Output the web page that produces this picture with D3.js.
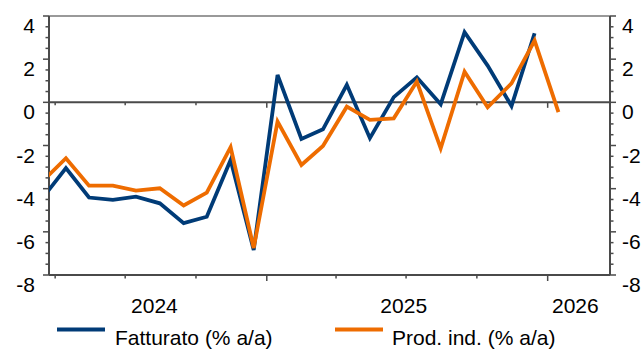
<!DOCTYPE html>
<html>
<head>
<meta charset="utf-8">
<script src="https://cdn.jsdelivr.net/npm/d3@7"></script>
<style>
  html, body { margin: 0; padding: 0; background: #fff; }
  svg { display: block; font-family: "Liberation Sans", Arial, sans-serif; }
</style>
</head>
<body>
<svg id="chart" width="643" height="349"></svg>
<script>
// Monthly observations (mid-month), March 2024 onward
const months = [
  "2024-03", "2024-04", "2024-05", "2024-06", "2024-07", "2024-08",
  "2024-09", "2024-10", "2024-11", "2024-12",
  "2025-01", "2025-02", "2025-03", "2025-04", "2025-05", "2025-06",
  "2025-07", "2025-08", "2025-09", "2025-10", "2025-11", "2025-12",
  "2026-01"
];

// Fatturato (% a/a)
const fatturato = [
  -4.46, -3.05, -4.41, -4.52, -4.37, -4.68, -5.60, -5.30, -2.67, -6.84,
  1.27, -1.70, -1.25, 0.81, -1.66, 0.24, 1.16, -0.09, 3.25, 1.70, -0.17, 3.20
];

// Prod. ind. (% a/a)
const prodInd = [
  -3.68, -2.59, -3.86, -3.86, -4.09, -3.98, -4.78, -4.18, -2.08, -6.75,
  -0.89, -2.90, -2.02, -0.20, -0.81, -0.74, 0.96, -2.13, 1.42, -0.23, 0.88, 2.86,
  -0.45
];

const yTicks = [4, 2, 0, -2, -4, -6, -8];
const yearLabels = ["2024", "2025", "2026"];
const seriesNames = ["Fatturato (% a/a)", "Prod. ind. (% a/a)"];
const seriesColors = ["#003B77", "#EE6C00"];

const svg = d3.select("#chart");
const plot = { left: 49, right: 610, top: 16, bottom: 275 };

const parse = s => { const [y, m] = s.split("-").map(Number); return new Date(Date.UTC(y, m - 1, 15)); };
const dates = months.map(parse);

const x = d3.scaleUtc()
  .domain([new Date(Date.UTC(2024, 2, 24)), new Date(Date.UTC(2026, 2, 23))])
  .range([plot.left, plot.right]);
const y = d3.scaleLinear().domain([-8, 4]).range([plot.bottom, plot.top]);

const axisColor = "#4a4a4a";

// clip region for the series
svg.append("defs").append("clipPath").attr("id", "plotClip")
  .append("rect")
  .attr("x", plot.left).attr("y", plot.top)
  .attr("width", plot.right - plot.left).attr("height", plot.bottom - plot.top);

// top frame line
svg.append("line")
  .attr("x1", plot.left).attr("x2", plot.right)
  .attr("y1", plot.top).attr("y2", plot.top)
  .attr("stroke", "#777").attr("stroke-width", 1.5);

// quarter and year ticks
const quarterTicks = d3.utcMonth.every(3).range(x.domain()[0], x.domain()[1]);
const isYear = d => d.getUTCMonth() === 0;

// zero line with small ticks below it
svg.append("line")
  .attr("x1", plot.left).attr("x2", plot.right)
  .attr("y1", y(0)).attr("y2", y(0))
  .attr("stroke", axisColor).attr("stroke-width", 2);
svg.append("g").selectAll("line").data(quarterTicks).join("line")
  .attr("x1", d => x(d)).attr("x2", d => x(d))
  .attr("y1", y(0)).attr("y2", d => y(0) + (isYear(d) ? 5.5 : 3))
  .attr("stroke", axisColor).attr("stroke-width", 1.5);

// bottom axis
const xAxis = svg.append("g").attr("transform", `translate(0,${plot.bottom})`);
xAxis.append("line")
  .attr("x1", plot.left).attr("x2", plot.right)
  .attr("stroke", axisColor).attr("stroke-width", 2);
xAxis.selectAll("line.tick").data(quarterTicks).join("line")
  .attr("class", "tick")
  .attr("x1", d => x(d)).attr("x2", d => x(d))
  .attr("y1", 0).attr("y2", d => isYear(d) ? 6 : 3.5)
  .attr("stroke", axisColor).attr("stroke-width", 1.5);

// year labels centred on the visible part of each year
xAxis.selectAll("text").data(yearLabels).join("text")
  .attr("x", d => {
    const a = Math.max(x(new Date(Date.UTC(+d, 0, 1))), plot.left);
    const b = Math.min(x(new Date(Date.UTC(+d + 1, 0, 1))), plot.right);
    return (a + b) / 2 - 3.5;
  })
  .attr("y", 38)
  .attr("text-anchor", "middle")
  .attr("font-size", 21)
  .attr("fill", "#000")
  .text(d => d);

// left and right value axes with minor ticks
const minorTicks = d3.range(-8, 4.01, 0.5);
function valueAxis(xPos, dir, anchor, labelX) {
  const g = svg.append("g");
  g.append("line")
    .attr("x1", xPos).attr("x2", xPos)
    .attr("y1", plot.top).attr("y2", plot.bottom)
    .attr("stroke", axisColor).attr("stroke-width", 2);
  g.selectAll("line.tick").data(minorTicks).join("line")
    .attr("class", "tick")
    .attr("x1", xPos)
    .attr("x2", d => xPos + dir * (d % 2 === 0 ? 6 : 3.5))
    .attr("y1", d => y(d)).attr("y2", d => y(d))
    .attr("stroke", axisColor).attr("stroke-width", 1.5);
  g.selectAll("text").data(yTicks).join("text")
    .attr("x", labelX)
    .attr("y", d => y(d) + 17)
    .attr("text-anchor", anchor)
    .attr("font-size", 21)
    .attr("fill", "#000")
    .text(d => d);
}
valueAxis(plot.left, -1, "end", 35);
valueAxis(plot.right, 1, "start", 622);

// series lines
const line = d3.line()
  .x(d => x(d.date))
  .y(d => y(d.value));

const seriesData = [fatturato, prodInd].map(vals =>
  vals.map((v, i) => ({ date: dates[i], value: v }))
);

svg.append("g").attr("clip-path", "url(#plotClip)")
  .selectAll("path").data(seriesData).join("path")
  .attr("d", line)
  .attr("fill", "none")
  .attr("stroke", (d, i) => seriesColors[i])
  .attr("stroke-width", 3.8)
  .attr("stroke-linejoin", "miter")
  .attr("stroke-linecap", "butt");

// legend
const legendItems = [
  { x1: 57, x2: 105, tx: 115 },
  { x1: 335, x2: 383, tx: 392 }
];
const legend = svg.append("g");
legendItems.forEach((it, i) => {
  legend.append("line")
    .attr("x1", it.x1).attr("x2", it.x2)
    .attr("y1", 329.5).attr("y2", 329.5)
    .attr("stroke", seriesColors[i]).attr("stroke-width", 4);
  legend.append("text")
    .attr("x", it.tx).attr("y", 345)
    .attr("font-size", 21)
    .attr("fill", "#000")
    .text(seriesNames[i]);
});
</script>
</body>
</html>
